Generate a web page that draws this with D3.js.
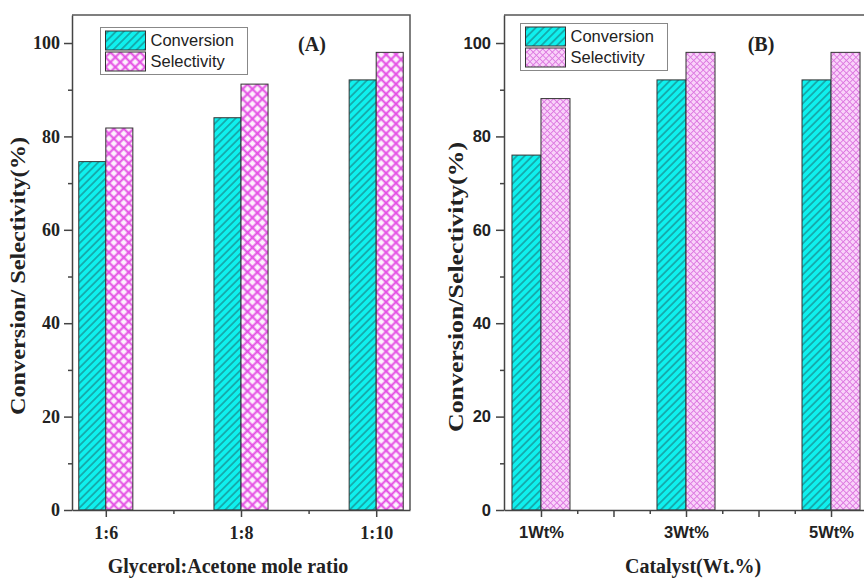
<!DOCTYPE html>
<html>
<head>
<meta charset="utf-8">
<script src="https://cdn.jsdelivr.net/npm/d3@7"></script>
<style>
body { margin: 0; background: #fff; }
</style>
</head>
<body>
<script>
// panel A : mole ratio
var ratioLabels = ["1:6", "1:8", "1:10"];
var ratioPos = [1, 2, 3];
var ratioConversion = [74.6, 84.0, 92.1];
var ratioSelectivity = [81.8, 91.2, 98.0];

// panel B : catalyst amount
var catalystLabels = ["1Wt%", "3Wt%", "5Wt%"];
var catalystPos = [1, 3, 5];
var catalystConversion = [76.0, 92.1, 92.1];
var catalystSelectivity = [88.1, 98.0, 98.0];

var yMajorTicks = [0, 20, 40, 60, 80, 100];
var yMinorTicks = [10, 30, 50, 70, 90];
var seriesNames = ["Conversion", "Selectivity"];

const canvWidth = 864, canvHeight = 579;
const serif = "'Liberation Serif', 'Times New Roman', serif";
const sans = "'Liberation Sans', Arial, sans-serif";

const svg = d3.select("body").append("svg")
    .attr("width", canvWidth)
    .attr("height", canvHeight);

const defs = svg.append("defs");

// hatch fills like the origin plot
function hatch(id, size, bg, lineColor, lineWidth, cross) {
    var p = defs.append("pattern")
        .attr("id", id)
        .attr("patternUnits", "userSpaceOnUse")
        .attr("width", size)
        .attr("height", size)
        .attr("patternTransform", "rotate(45)");
    p.append("rect").attr("width", size).attr("height", size).attr("fill", bg);
    p.append("line")
        .attr("x1", size / 2).attr("y1", 0).attr("x2", size / 2).attr("y2", size)
        .attr("stroke", lineColor).attr("stroke-width", lineWidth);
    if (cross) {
        p.append("line")
            .attr("x1", 0).attr("y1", size / 2).attr("x2", size).attr("y2", size / 2)
            .attr("stroke", lineColor).attr("stroke-width", lineWidth);
    }
}
hatch("convHatch", 5.5, "#0ff0ee", "#1b6468", 0.9, false);
hatch("selA", 7, "#fdf0fd", "#e44ee4", 2, true);
hatch("selB", 4.5, "#f9d2f9", "#dc78e0", 0.9, true);

function drawPanel(cfg) {
    var x = d3.scaleLinear().domain(cfg.xDomain).range([cfg.left, cfg.right]);
    var y = d3.scaleLinear().domain([0, 106]).range([510, 15]);
    var g = svg.append("g");
    var bw = x(cfg.pos[0]) - x(cfg.pos[0] - cfg.barW);

    // bars
    g.selectAll("rect.conv")
        .data(cfg.conv).enter()
        .append("rect")
        .attr("class", "conv")
        .attr("x", (d, i) => x(cfg.pos[i] - cfg.barW))
        .attr("y", d => y(d))
        .attr("width", bw)
        .attr("height", d => y(0) - y(d))
        .attr("fill", "url(#convHatch)")
        .attr("stroke", "#333")
        .attr("stroke-width", 1);

    g.selectAll("rect.sel")
        .data(cfg.sel).enter()
        .append("rect")
        .attr("class", "sel")
        .attr("x", (d, i) => x(cfg.pos[i]))
        .attr("y", d => y(d))
        .attr("width", bw)
        .attr("height", d => y(0) - y(d))
        .attr("fill", "url(#" + cfg.selPattern + ")")
        .attr("stroke", "#333")
        .attr("stroke-width", 1);

    // frame top and right
    g.append("path")
        .attr("d", "M" + x.range()[0] + "," + y(106) + "H" + x.range()[1] + "V" + y(0))
        .attr("fill", "none")
        .attr("stroke", "#555")
        .attr("stroke-width", 1.5);

    // y axis
    g.append("g")
        .attr("transform", "translate(" + cfg.left + ",0)")
        .call(d3.axisLeft(y).tickValues(yMinorTicks).tickSize(4).tickFormat("").tickSizeOuter(0))
        .call(a => a.select(".domain").remove());
    var yAx = g.append("g")
        .attr("transform", "translate(" + cfg.left + ",0)")
        .call(d3.axisLeft(y).tickValues(yMajorTicks).tickSize(8).tickPadding(cfg.yPad).tickSizeOuter(0));
    yAx.selectAll("text")
        .attr("font-family", cfg.tickFont)
        .attr("font-weight", "bold")
        .attr("font-size", cfg.tickSize)
        .attr("fill", "#222");

    // x axis
    g.append("g")
        .attr("transform", "translate(0," + y(0) + ")")
        .call(d3.axisBottom(x).tickValues(cfg.minorX).tickSize(4).tickFormat("").tickSizeOuter(0))
        .call(a => a.select(".domain").remove());
    var xAx = g.append("g")
        .attr("transform", "translate(0," + y(0) + ")")
        .call(d3.axisBottom(x).tickValues(cfg.majorX).tickSize(7).tickPadding(9).tickSizeOuter(0)
            .tickFormat(v => {
                var i = cfg.pos.indexOf(v);
                return i >= 0 ? cfg.labels[i] : "";
            }));
    xAx.selectAll("text")
        .attr("font-family", cfg.tickFont)
        .attr("font-weight", "bold")
        .attr("font-size", cfg.tickSize)
        .attr("fill", "#222");
    svg.selectAll(".domain, .tick line").attr("stroke", "#444").attr("stroke-width", 1.5);

    // axis titles
    g.append("text")
        .attr("transform", "translate(" + cfg.yTitleX + "," + cfg.yTitleY + ") rotate(-90)")
        .attr("text-anchor", "middle")
        .attr("font-family", serif)
        .attr("font-weight", "bold")
        .attr("font-size", 21)
        .attr("textLength", cfg.yTitleLen)
        .attr("lengthAdjust", "spacingAndGlyphs")
        .attr("fill", "#222")
        .text(cfg.yTitle);

    g.append("text")
        .attr("x", cfg.xTitleX)
        .attr("y", 573)
        .attr("text-anchor", "middle")
        .attr("font-family", serif)
        .attr("font-weight", "bold")
        .attr("font-size", 20)
        .attr("fill", "#222")
        .text(cfg.xTitle);

    // panel letter
    g.append("text")
        .attr("x", cfg.tagX)
        .attr("y", 51)
        .attr("text-anchor", "middle")
        .attr("font-family", serif)
        .attr("font-weight", "bold")
        .attr("font-size", 20)
        .attr("fill", "#222")
        .text(cfg.tag);

    // legend
    var lg = g.append("g").attr("transform", "translate(" + cfg.legX + "," + cfg.legY + ")");
    lg.append("rect")
        .attr("width", 147).attr("height", 47)
        .attr("fill", "#fff").attr("stroke", "#888").attr("stroke-width", 1);
    var fills = ["url(#convHatch)", "url(#" + cfg.selPattern + ")"];
    seriesNames.forEach(function (name, i) {
        lg.append("rect")
            .attr("x", 5).attr("y", 3.5 + i * 21)
            .attr("width", 40).attr("height", 19)
            .attr("fill", fills[i]).attr("stroke", "#333").attr("stroke-width", 1);
        lg.append("text")
            .attr("x", 50).attr("y", 18 + i * 21)
            .attr("font-family", sans)
            .attr("font-size", 16.5)
            .attr("fill", "#222")
            .text(name);
    });
}

drawPanel({
    pos: ratioPos, labels: ratioLabels, conv: ratioConversion, sel: ratioSelectivity,
    xDomain: [0.75, 3.25], left: 72, right: 410, barW: 0.2,
    majorX: [1, 2, 3], minorX: [1.5, 2.5],
    selPattern: "selA", tickFont: serif, tickSize: 18, yPad: 4,
    yTitle: "Conversion/ Selectivity(%)", yTitleX: 25, yTitleY: 276, yTitleLen: 278,
    xTitle: "Glycerol:Acetone mole ratio", xTitleX: 228,
    tag: "(A)", tagX: 312, legX: 100.5, legY: 27.5
});

drawPanel({
    pos: catalystPos, labels: catalystLabels, conv: catalystConversion, sel: catalystSelectivity,
    xDomain: [0.49, 5.51], left: 504, right: 868, barW: 0.4,
    majorX: [1, 2, 3, 4, 5], minorX: [1.5, 2.5, 3.5, 4.5],
    selPattern: "selB", tickFont: sans, tickSize: 16.5, yPad: 5,
    yTitle: "Conversion/Selectivity(%)", yTitleX: 463, yTitleY: 287, yTitleLen: 290,
    xTitle: "Catalyst(Wt.%)", xTitleX: 693,
    tag: "(B)", tagX: 761, legX: 520.5, legY: 23.5
});
</script>
</body>
</html>
